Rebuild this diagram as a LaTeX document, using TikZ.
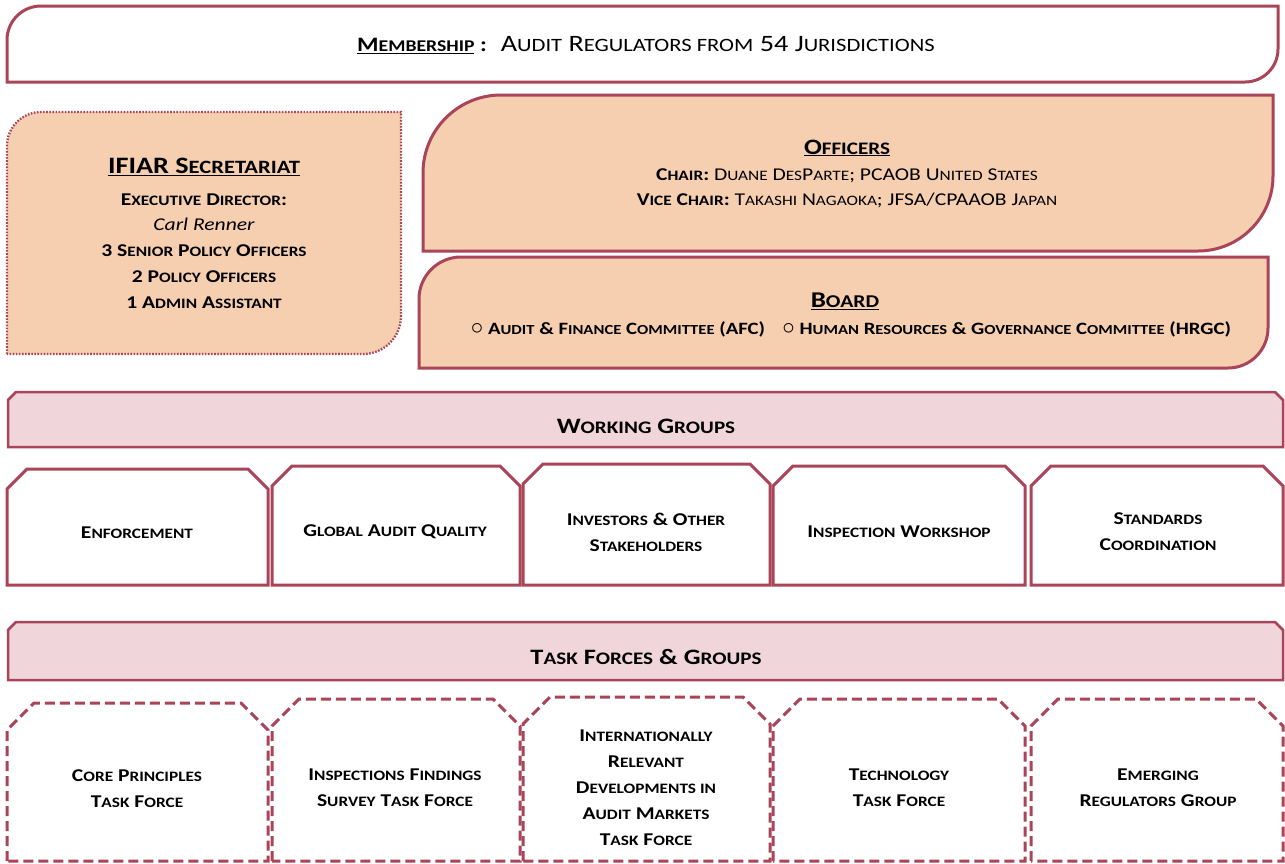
\documentclass[tikz,border=0pt]{standalone}
\usepackage{fontspec}
\setmainfont{Carlito}[FakeStretch=1.2]
\definecolor{mar}{HTML}{A94459}
\definecolor{peach}{HTML}{F5CFB0}
\definecolor{pinkfill}{HTML}{F0D6DA}
\newcommand\lc[1]{{\fontsize{0.8em}{0pt}\selectfont #1}}
\newcommand\fs[2]{\fontsize{#1}{#2}\selectfont}
\newcommand\bul{{\fontsize{25}{20}\selectfont$\circ$}}
\tikzset{
  solidbox/.style={draw=mar, line width=3pt},
  dotbox/.style={draw=mar, line width=2.3pt, dash pattern=on 1.6pt off 1.5pt},
  dashbox/.style={draw=mar, line width=3pt, dash pattern=on 10pt off 5pt},
  txt/.style={align=center, inner sep=0pt, text=black},
}
% box with top-left radius #5 and bottom-right radius #6
\newcommand\rbox[7]{%
  \path[#7] (#1,#4) -- (#1,#2+#5) arc[start angle=180,end angle=270,radius=#5]
    -- (#3,#2) -- (#3,#4-#6) arc[start angle=0,end angle=90,radius=#6] -- cycle;}
% chamfered-top box
\newcommand\cbox[6]{%
  \path[#6] (#1,#4) -- (#1,#2+#5) -- (#1+#5,#2) -- (#3-#5,#2) -- (#3,#2+#5) -- (#3,#4) -- cycle;}
\begin{document}
\begin{tikzpicture}[x=1pt,y=-1pt]
\useasboundingbox[fill=white] (0,0) rectangle (1285,863);

% Membership
\rbox{7}{6}{1278}{82}{34}{33}{solidbox, fill=white}
\node[txt] (member) at (646,45)
  {\fs{20.5}{24}\textbf{\underline{M\lc{EMBERSHIP}}} \textbf{:}\hspace{14pt}\fs{23.5}{24}A\lc{UDIT} R\lc{EGULATORS FROM} 54 J\lc{URISDICTIONS}};

% Secretariat
\rbox{7}{112}{401}{354}{34}{38}{dotbox, fill=peach}
\node[txt, font=\bfseries\fs{23.5}{26}] (sectitle) at (204,167) {\underline{IFIAR S\lc{ECRETARIAT}}};
\node[txt, font=\bfseries\fs{18}{25.8}] (secbody) at (204,251)
  {E\lc{XECUTIVE} D\lc{IRECTOR}:\\
   \mdseries\itshape Carl Renner\\
   3 S\lc{ENIOR} P\lc{OLICY} O\lc{FFICERS}\\
   2 P\lc{OLICY} O\lc{FFICERS}\\
   1 A\lc{DMIN} A\lc{SSISTANT}};

% Officers
\rbox{423}{95}{1273}{251}{78}{75}{solidbox, fill=peach}
\node[txt, font=\bfseries\fs{22}{26}] (offtitle) at (847,148) {\underline{O\lc{FFICERS}}};
\node[txt, font=\fs{18}{25}] (offbody) at (847,188)
  {\textbf{C\lc{HAIR}:} D\lc{UANE} D\lc{ES}P\lc{ARTE}; PCAOB U\lc{NITED} S\lc{TATES}\\
   \textbf{V\lc{ICE} C\lc{HAIR}:} T\lc{AKASHI} N\lc{AGAOKA}; JFSA/CPAAOB J\lc{APAN}};

% Board
\rbox{419}{257}{1268}{368}{42}{40}{solidbox, fill=peach}
\node[txt, font=\bfseries\fs{22.5}{26}] (boardtitle) at (845,301) {\underline{B\lc{OARD}}};
\node[txt, font=\bfseries\fs{17.3}{20}] (boardbody) at (851,329)
  {\bul\ A\lc{UDIT} \& F\lc{INANCE} C\lc{OMMITTEE} (AFC)\quad
   \bul\ H\lc{UMAN} R\lc{ESOURCES} \& G\lc{OVERNANCE} C\lc{OMMITTEE} (HRGC)};

% Working groups header
\cbox{8}{392}{1283}{447}{8}{solidbox, line width=2.5pt, fill=pinkfill}
\node[txt, font=\bfseries\fs{22}{22}] (wg) at (646,426) {W\lc{ORKING} G\lc{ROUPS}};

% Working group boxes
\cbox{7}{469}{268}{585}{20}{solidbox, fill=white}
\cbox{272}{466}{520}{585}{20}{solidbox, fill=white}
\cbox{523}{464}{770}{585}{20}{solidbox, fill=white}
\cbox{773}{466}{1025}{585}{20}{solidbox, fill=white}
\cbox{1031}{466}{1283}{585}{20}{solidbox, fill=white}
\node[txt, font=\bfseries\fs{18}{26}] (wg1) at (137,533) {E\lc{NFORCEMENT}};
\node[txt, font=\bfseries\fs{18}{26}] (wg2) at (395,532) {G\lc{LOBAL} A\lc{UDIT} Q\lc{UALITY}};
\node[txt, font=\bfseries\fs{18}{26}] (wg3) at (646,532) {I\lc{NVESTORS} \& O\lc{THER}\\S\lc{TAKEHOLDERS}};
\node[txt, font=\bfseries\fs{18}{26}] (wg4) at (899,532) {I\lc{NSPECTION} W\lc{ORKSHOP}};
\node[txt, font=\bfseries\fs{18}{26}] (wg5) at (1158,532) {S\lc{TANDARDS}\\C\lc{OORDINATION}};

% Task forces header
\cbox{8}{622}{1283}{680}{8}{solidbox, line width=2.5pt, fill=pinkfill}
\node[txt, font=\bfseries\fs{22}{22}] (tf) at (646,657) {T\lc{ASK} F\lc{ORCES} \& G\lc{ROUPS}};

% Task force boxes
\cbox{7}{703}{268}{861}{27}{dashbox, fill=white}
\cbox{272}{699}{520}{861}{27}{dashbox, fill=white}
\cbox{523}{697}{770}{861}{27}{dashbox, fill=white}
\cbox{773}{699}{1025}{861}{27}{dashbox, fill=white}
\cbox{1031}{699}{1283}{861}{27}{dashbox, fill=white}
\node[txt, font=\bfseries\fs{18}{26}] (tf1) at (137,789) {C\lc{ORE} P\lc{RINCIPLES}\\T\lc{ASK} F\lc{ORCE}};
\node[txt, font=\bfseries\fs{18}{26}] (tf2) at (395,788) {I\lc{NSPECTIONS} F\lc{INDINGS}\\S\lc{URVEY} T\lc{ASK} F\lc{ORCE}};
\node[txt, font=\bfseries\fs{18}{26}] (tf3) at (646,788) {I\lc{NTERNATIONALLY}\\R\lc{ELEVANT}\\D\lc{EVELOPMENTS IN}\\A\lc{UDIT} M\lc{ARKETS}\\T\lc{ASK} F\lc{ORCE}};
\node[txt, font=\bfseries\fs{18}{26}] (tf4) at (899,788) {T\lc{ECHNOLOGY}\\T\lc{ASK} F\lc{ORCE}};
\node[txt, font=\bfseries\fs{18}{26}] (tf5) at (1158,788) {E\lc{MERGING}\\R\lc{EGULATORS} G\lc{ROUP}};
\end{tikzpicture}
\end{document}
